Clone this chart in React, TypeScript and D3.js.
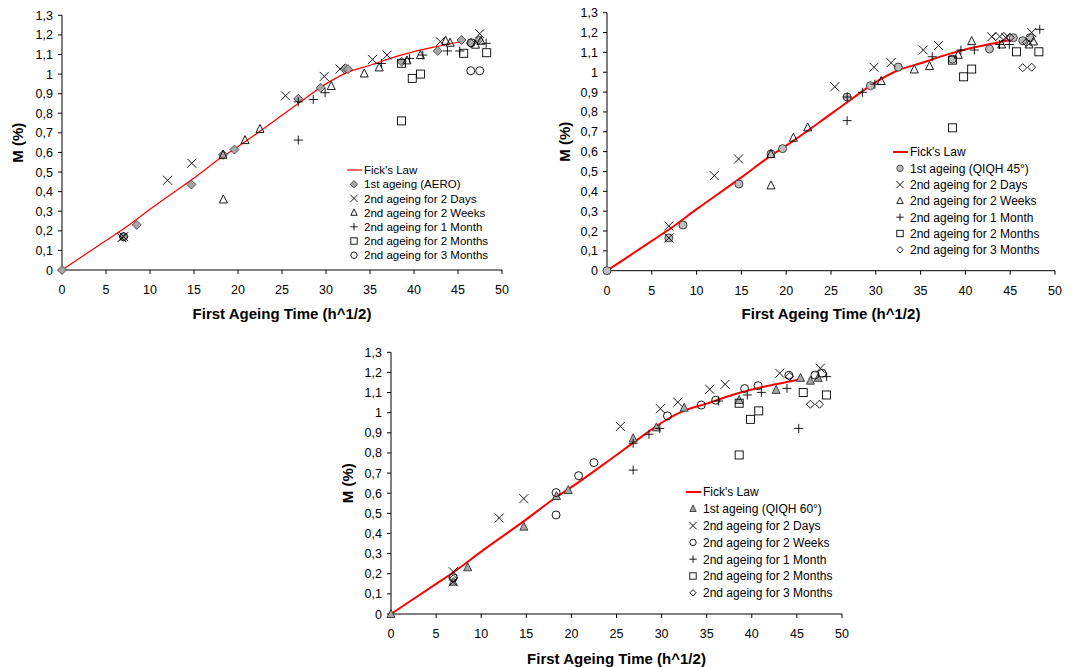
import React from "react";
import * as d3 from "d3";

// ---------- data ----------
const yTicks = [0, 0.1, 0.2, 0.3, 0.4, 0.5, 0.6, 0.7, 0.8, 0.9, 1, 1.1, 1.2, 1.3];
const xTicks = [0, 5, 10, 15, 20, 25, 30, 35, 40, 45, 50];
const xTitle = "First Ageing Time (h^1/2)";
const yTitle = "M (%)";

const fickX = [0, 5, 7, 10, 15, 18.3, 20, 25, 27, 30, 32.5, 35, 38, 40, 42, 45.3];
const fickY = [0, 0.15, 0.21, 0.31, 0.47, 0.58, 0.63, 0.79, 0.855, 0.95, 1.01, 1.045, 1.09, 1.115, 1.135, 1.165];

const seriesNames2 = ["2nd ageing for 2 Days", "2nd ageing for 2 Weeks", "2nd ageing for 1 Month", "2nd ageing for 2 Months", "2nd ageing for 3 Months"];

// Chart 1 (AERO)
const aeroFirst = [[0, 0], [7, 0.17], [8.5, 0.23], [14.7, 0.436], [18.3, 0.588], [19.6, 0.615], [26.85, 0.874], [29.4, 0.93], [32.2, 1.03], [32.5, 1.025], [38.6, 1.063], [42.7, 1.118], [45.4, 1.174], [46.45, 1.157], [47.35, 1.174]];
const aeroDays = [[6.8, 0.165], [7.0, 0.17], [12.0, 0.458], [14.75, 0.545], [25.4, 0.889], [29.8, 0.988], [31.6, 1.026], [35.3, 1.075], [36.95, 1.097], [43.0, 1.165], [47.47, 1.206]];
const aeroWeeks = [[18.3, 0.588], [18.34, 0.36], [20.8, 0.663], [22.5, 0.72], [30.6, 0.939], [34.34, 1.003], [36.04, 1.034], [39.2, 1.07], [40.73, 1.097], [43.6, 1.17], [44.1, 1.16], [47.0, 1.15], [47.6, 1.17]];
const aeroMonth = [[26.85, 0.663], [26.85, 0.858], [28.55, 0.87], [29.9, 0.905], [36.3, 1.054], [39.5, 1.08], [41.0, 1.097], [43.8, 1.118], [45.2, 1.118], [48.2, 1.157]];
const aero2Months = [[38.58, 0.761], [38.58, 1.055], [39.8, 0.978], [40.73, 1.0], [45.65, 1.106], [48.26, 1.109]];
const aero3Months = [[7.0, 0.17], [46.45, 1.017], [47.47, 1.017], [46.5, 1.16]];

// Chart 2 (QIQH 45°)
const q45First = [[0, 0], [6.9, 0.165], [8.48, 0.23], [14.72, 0.437], [18.3, 0.588], [19.6, 0.615], [26.8, 0.875], [29.4, 0.932], [32.5, 1.026], [38.55, 1.066], [42.68, 1.117], [45.35, 1.174], [46.4, 1.159], [47.2, 1.174]];
const q45Days = [[6.9, 0.225], [6.9, 0.165], [11.97, 0.479], [14.68, 0.563], [25.43, 0.927], [29.8, 1.025], [31.7, 1.048], [35.3, 1.112], [37.0, 1.135], [42.95, 1.179], [44.5, 1.175], [47.4, 1.2]];
const q45Weeks = [[18.3, 0.588], [18.3, 0.43], [20.8, 0.67], [22.4, 0.722], [30.6, 0.956], [34.3, 1.014], [36.0, 1.031], [39.2, 1.088], [40.7, 1.157], [44.05, 1.14], [47.1, 1.14], [47.6, 1.155]];
const q45Month = [[26.8, 0.875], [26.8, 0.756], [28.5, 0.899], [29.9, 0.94], [36.3, 1.078], [39.5, 1.112], [41.0, 1.112], [43.8, 1.14], [44.9, 1.14], [48.3, 1.216]];
const q452Months = [[38.55, 0.72], [38.55, 1.061], [39.8, 0.977], [40.7, 1.016], [45.7, 1.103], [48.2, 1.103]];
const q453Months = [[43.4, 1.18], [44.3, 1.18], [45.0, 1.175], [46.4, 1.023], [47.4, 1.025], [46.8, 1.15]];

// Chart 3 (QIQH 60°)
const q60First = [[0, 0], [6.9, 0.16], [8.5, 0.232], [14.73, 0.434], [18.35, 0.586], [19.65, 0.616], [26.85, 0.873], [29.43, 0.927], [32.5, 1.025], [38.6, 1.063], [42.7, 1.113], [45.4, 1.173], [46.5, 1.159], [47.35, 1.173]];
const q60Days = [[6.9, 0.21], [6.9, 0.16], [12.0, 0.477], [14.73, 0.573], [25.44, 0.932], [29.87, 1.02], [31.8, 1.052], [35.34, 1.116], [37.04, 1.141], [43.1, 1.196], [47.6, 1.221]];
const q60Weeks = [[6.9, 0.18], [18.3, 0.603], [18.3, 0.492], [20.8, 0.687], [22.5, 0.752], [30.65, 0.984], [34.4, 1.038], [36.0, 1.062], [39.2, 1.12], [40.7, 1.134], [44.1, 1.186], [47.0, 1.187], [47.8, 1.196]];
const q60Month = [[26.85, 0.715], [26.85, 0.848], [28.6, 0.893], [29.8, 0.922], [36.3, 1.058], [39.5, 1.088], [41.06, 1.101], [43.9, 1.121], [45.2, 0.922], [48.3, 1.179]];
const q602Months = [[38.6, 0.79], [38.6, 1.047], [39.85, 0.967], [40.77, 1.009], [45.7, 1.1], [48.27, 1.088]];
const q603Months = [[6.9, 0.175], [44.2, 1.18], [46.5, 1.042], [47.5, 1.042]];

// ---------- layout ----------
type Sym = "diamondG" | "circleG" | "triangleG" | "x" | "triangle" | "plus" | "square" | "circle" | "diamond";

const charts = [
  {
    first: "1st ageing (AERO)",
    x: [62, 502], y: [270, 15.3], lineW: 1.2,
    yLabelX: 18, xTitleY: 319, legendFont: 11.5,
    legend: { lx: 347, ty: 170, dy: 14.2 },
    series: [
      { data: aeroFirst, sym: "diamondG" as Sym },
      { data: aeroDays, sym: "x" as Sym },
      { data: aeroWeeks, sym: "triangle" as Sym },
      { data: aeroMonth, sym: "plus" as Sym },
      { data: aero2Months, sym: "square" as Sym },
      { data: aero3Months, sym: "circle" as Sym },
    ],
  },
  {
    first: "1st ageing (QIQH 45°)",
    x: [607, 1055], y: [270.7, 12.7], lineW: 2,
    yLabelX: 565, xTitleY: 319, legendFont: 12,
    legend: { lx: 893, ty: 152, dy: 16.3 },
    series: [
      { data: q45First, sym: "circleG" as Sym },
      { data: q45Days, sym: "x" as Sym },
      { data: q45Weeks, sym: "triangle" as Sym },
      { data: q45Month, sym: "plus" as Sym },
      { data: q452Months, sym: "square" as Sym },
      { data: q453Months, sym: "diamond" as Sym },
    ],
  },
  {
    first: "1st ageing (QIQH 60°)",
    x: [391, 842], y: [614, 352.3], lineW: 2,
    yLabelX: 348, xTitleY: 664, legendFont: 12,
    legend: { lx: 686, ty: 492, dy: 16.8 },
    series: [
      { data: q60First, sym: "triangleG" as Sym },
      { data: q60Days, sym: "x" as Sym },
      { data: q60Weeks, sym: "circle" as Sym },
      { data: q60Month, sym: "plus" as Sym },
      { data: q602Months, sym: "square" as Sym },
      { data: q603Months, sym: "diamond" as Sym },
    ],
  },
];

const FONT = "'Liberation Sans', Arial, sans-serif";
const DARK = "#333";

function Marker({ sym, cx, cy, s = 1 }: { sym: Sym; cx: number; cy: number; s?: number }) {
  const r = 4 * s;
  switch (sym) {
    case "diamondG":
      return <path d={`M${cx},${cy - r - 0.5}L${cx + r + 0.5},${cy}L${cx},${cy + r + 0.5}L${cx - r - 0.5},${cy}Z`} fill="#a6a6a6" stroke={DARK} strokeWidth={0.8} />;
    case "diamond":
      return <path d={`M${cx},${cy - r}L${cx + r},${cy}L${cx},${cy + r}L${cx - r},${cy}Z`} fill="none" stroke="#000" strokeWidth={0.9} />;
    case "circleG":
      return <circle cx={cx} cy={cy} r={r} fill="#bdbdbd" stroke={DARK} strokeWidth={0.9} />;
    case "circle":
      return <circle cx={cx} cy={cy} r={r} fill="none" stroke="#000" strokeWidth={0.9} />;
    case "triangleG":
      return <path d={`M${cx},${cy - r - 0.5}L${cx + r},${cy + r - 0.5}L${cx - r},${cy + r - 0.5}Z`} fill="#a6a6a6" stroke={DARK} strokeWidth={0.9} />;
    case "triangle":
      return <path d={`M${cx},${cy - r - 0.5}L${cx + r},${cy + r - 0.5}L${cx - r},${cy + r - 0.5}Z`} fill="none" stroke="#000" strokeWidth={0.9} />;
    case "square":
      return <rect x={cx - r} y={cy - r} width={2 * r} height={2 * r} fill="none" stroke="#000" strokeWidth={0.9} />;
    case "x":
      return <path d={`M${cx - r - 0.5},${cy - r - 0.5}L${cx + r + 0.5},${cy + r + 0.5}M${cx - r - 0.5},${cy + r + 0.5}L${cx + r + 0.5},${cy - r - 0.5}`} stroke="#000" strokeWidth={0.9} />;
    case "plus":
      return <path d={`M${cx - r - 0.5},${cy}L${cx + r + 0.5},${cy}M${cx},${cy - r - 0.5}L${cx},${cy + r + 0.5}`} stroke="#000" strokeWidth={0.9} />;
  }
  return null;
}

function fmt(v: number) {
  return d3.format(".1~f")(v).replace(".", ",");
}

function Chart({ c }: { c: (typeof charts)[number] }) {
  const xs = d3.scaleLinear().domain([0, 50]).range(c.x);
  const ys = d3.scaleLinear().domain([0, 1.3]).range(c.y);
  const line = d3
    .line<number>()
    .x((_, i) => xs(fickX[i]))
    .y((d) => ys(d))
    .curve(d3.curveMonotoneX);
  const x0 = xs(0);
  const y0 = ys(0);
  const names = ["Fick's Law", c.first, ...seriesNames2];
  return (
    <g fontFamily={FONT}>
      <line x1={x0} x2={x0} y1={ys(1.3)} y2={y0} stroke="#000" strokeWidth={1} />
      <line x1={x0} x2={xs(50)} y1={y0} y2={y0} stroke="#000" strokeWidth={1} />
      {yTicks.map((t) => (
        <g key={"y" + t}>
          <line x1={x0 - 4} x2={x0} y1={ys(t)} y2={ys(t)} stroke="#000" />
          <text x={x0 - 9} y={ys(t)} dy="0.36em" textAnchor="end" fontSize={12.5}>
            {fmt(t)}
          </text>
        </g>
      ))}
      {xTicks.map((t) => (
        <g key={"x" + t}>
          <line x1={xs(t)} x2={xs(t)} y1={y0} y2={y0 + 4} stroke="#000" />
          <text x={xs(t)} y={y0 + 24} textAnchor="middle" fontSize={12.5}>
            {t}
          </text>
        </g>
      ))}
      <text x={(xs(0) + xs(50)) / 2} y={c.xTitleY} textAnchor="middle" fontSize={15} fontWeight="bold">
        {xTitle}
      </text>
      <text
        transform={`translate(${c.yLabelX},${(ys(0) + ys(1.3)) / 2}) rotate(-90)`}
        textAnchor="middle"
        dy="0.36em"
        fontSize={15}
        fontWeight="bold"
      >
        {yTitle}
      </text>
      <path d={line(fickY) || ""} fill="none" stroke="#ff0000" strokeWidth={c.lineW} />
      {c.series.map((s, si) =>
        s.data.map((p, pi) => <Marker key={si + "-" + pi} sym={s.sym} cx={xs(p[0])} cy={ys(p[1])} />)
      )}
      {names.map((n, i) => {
        const ly = c.legend.ty + i * c.legend.dy;
        const lx = c.legend.lx;
        return (
          <g key={"l" + i}>
            {i === 0 ? (
              <line x1={lx} x2={lx + 15} y1={ly} y2={ly} stroke="#ff0000" strokeWidth={c.lineW} />
            ) : (
              <Marker sym={c.series[i - 1].sym} cx={lx + 7} cy={ly} s={0.8} />
            )}
            <text x={lx + 17} y={ly} dy="0.36em" fontSize={c.legendFont}>
              {n}
            </text>
          </g>
        );
      })}
    </g>
  );
}

export default function App() {
  return (
    <svg width={1072} height={667} style={{ position: "absolute", left: 0, top: 0, background: "#fff" }}>
      <rect width={1072} height={667} fill="#fff" />
      {charts.map((c, i) => (
        <Chart key={i} c={c} />
      ))}
    </svg>
  );
}
